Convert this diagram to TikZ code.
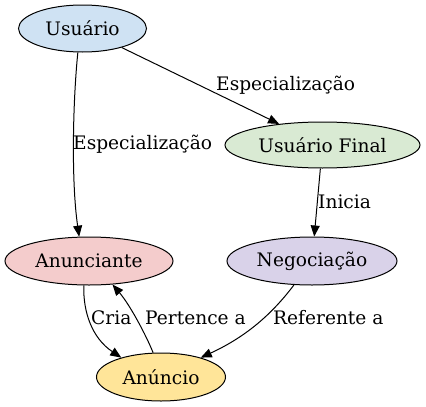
\documentclass[tikz,border=0pt]{standalone}
\usepackage{fontspec}
\setmainfont{DejaVu Serif}
\usetikzlibrary{shapes.geometric,arrows.meta}
\definecolor{cblue}{HTML}{CFE2F3}
\definecolor{cgreen}{HTML}{D9EAD3}
\definecolor{cred}{HTML}{F4CCCC}
\definecolor{cpurple}{HTML}{D9D2E9}
\definecolor{cyellow}{HTML}{FFE599}
\tikzset{
  ent/.style={ellipse, draw=black, line width=1pt, inner sep=0pt, font=\fontsize{18.6}{20}\selectfont},
  lbl/.style={anchor=west, inner sep=0pt, font=\fontsize{18.6}{20}\selectfont},
  conn/.style={line width=1pt, -{Triangle[length=11pt,width=9pt]}}
}
\begin{document}
\begin{tikzpicture}[x=1pt,y=-1pt]
\useasboundingbox (0,0) rectangle (426,407);
\node[ent, fill=cblue, minimum width=128pt, minimum height=47pt] (u) at (82.5,28.5) {Usuário};
\node[ent, fill=cgreen, minimum width=195pt, minimum height=46pt] (uf) at (322.5,145) {Usuário Final};
\node[ent, fill=cred, minimum width=168pt, minimum height=48pt] (an) at (89,261) {Anunciante};
\node[ent, fill=cpurple, minimum width=170pt, minimum height=48pt] (neg) at (312,261) {Negociação};
\node[ent, fill=cyellow, minimum width=129pt, minimum height=48pt] (anc) at (161,377) {Anúncio};

\draw[conn] (u.259.6) .. controls (73,100) and (71,180) .. (an.112.6);
\draw[conn] (u) -- (uf);
\draw[conn] (uf) -- (neg);
\draw[conn] (an.258) .. controls (83,312) and (92,338) .. (anc.154);
\draw[conn] (anc.108) .. controls (146,335) and (130,305) .. (an.-45);
\draw[conn] (neg.233) .. controls (275,310) and (250,335) .. (anc.26);

\node[lbl] (l1) at (73,144) {Especialização};
\node[lbl] (l2) at (216,85) {Especialização};
\node[lbl] (l3) at (318,202) {Inicia};
\node[lbl] (l4) at (91,318) {Cria};
\node[lbl] (l5) at (145,318) {Pertence a};
\node[lbl] (l6) at (273,318) {Referente a};
\end{tikzpicture}
\end{document}
